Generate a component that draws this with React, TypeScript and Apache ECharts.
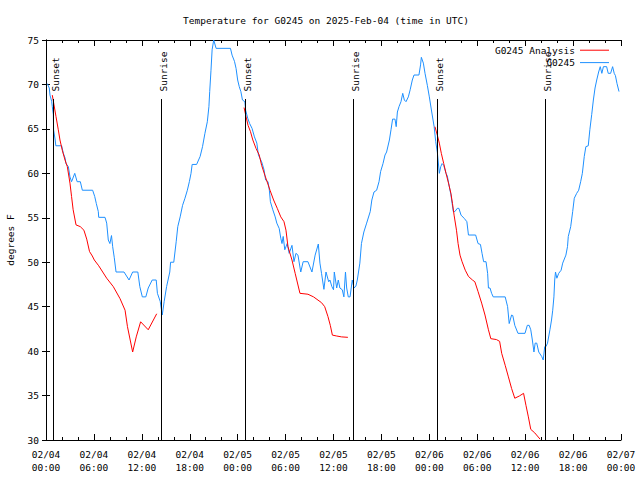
import React, { useEffect, useRef } from "react";
import * as echarts from "echarts";

// Hours since 2025-02-04 00:00 UTC
const obsHours = [
  0.16, 0.41, 0.5, 0.71, 0.79, 0.92, 0.95, 1.15, 1.23, 1.96, 2.17, 2.4, 2.5, 2.8, 3.0, 3.2, 3.6, 3.9, 4.3, 4.55,
  5.84, 6.1, 6.3, 6.55, 6.6, 7.39, 7.6, 7.8, 8.0, 8.2, 8.35, 8.55, 8.77, 9.77, 10.4, 10.85, 11.5, 11.75, 12.06, 12.5,
  12.8, 13.3, 13.8, 13.95, 14.3, 14.56, 14.8, 15.1, 15.5, 15.6, 16.0, 16.3, 16.5, 16.8, 17.1, 17.4, 17.7, 17.95, 18.16, 18.3,
  18.86, 19.3, 19.6, 19.9, 20.2, 20.4, 20.5, 20.66, 20.8, 21.0, 21.3, 23.1, 23.3, 23.6, 23.8, 24.0, 24.2, 24.4, 24.6, 24.9,
  25.0, 25.26, 25.5, 25.8, 26.1, 26.4, 26.6, 27.0, 27.3, 27.5, 27.8, 27.97, 28.1, 28.4, 28.7, 28.9, 29.2, 29.4, 29.55, 29.7,
  29.9, 30.2, 30.45, 30.8, 31.05, 31.3, 31.55, 31.9, 32.2, 32.8, 33.3, 33.7, 34.1, 34.3, 34.5, 34.8, 35.06, 35.4, 35.55, 35.8,
  36.0, 36.1, 36.4, 36.6, 36.8, 37.1, 37.3, 37.5, 37.65, 37.85, 38.07, 38.35, 38.57, 38.8, 38.98, 39.3, 39.5, 39.8, 40.15, 40.6,
  40.8, 41.07, 41.4, 41.7, 41.9, 42.2, 42.45, 42.65, 43.0, 43.2, 43.4, 43.7, 43.85, 44.0, 44.2, 44.45, 44.67, 44.87, 45.08, 45.37,
  45.6, 45.87, 46.08, 46.7, 46.9, 47.0, 47.25, 47.46, 47.75, 48.0, 48.3, 48.6, 48.8, 49.0, 49.25, 49.43, 49.6, 49.8, 50.09, 50.25,
  50.5, 50.7, 51.0, 51.2, 51.5, 51.7, 51.97, 52.4, 52.7, 52.9, 53.8, 54.1, 54.4, 54.6, 54.8, 55.1, 55.3, 55.4, 55.6, 55.8,
  56.0, 57.5, 57.8, 58.0, 58.3, 58.45, 58.7, 59.1, 59.98, 60.27, 60.5, 60.7, 60.9, 61.1, 61.25, 61.45, 61.7, 62.07, 62.26, 62.45,
  62.6, 62.8, 63.1, 63.3, 63.45, 63.6, 63.7, 63.8, 63.97, 64.2, 64.5, 64.7, 65.1, 65.3, 65.4, 65.7, 65.95, 66.15, 66.45, 66.7,
  66.95, 67.16, 67.4, 67.6, 67.9, 68.1, 68.33, 68.54, 68.75, 68.96, 69.2, 69.4, 69.6, 69.8, 70.2, 70.4, 70.7, 70.95, 71.15, 71.3,
  71.5, 71.75,
];
const obsTemps = [
  70.1, 69.6, 68.8, 68.1, 67.5, 66.6, 64.9, 63.75, 63.1, 63.1, 62.25, 61.7, 61.1, 60.75, 59.6, 59.06, 60.0, 59.06, 59.06, 58.1,
  58.1, 57.4, 56.6, 55.7, 55.05, 55.05, 54.4, 52.5, 52.1, 53.0, 51.75, 50.5, 48.9, 48.9, 48.0, 48.9, 48.9, 47.25, 46.1, 46.1,
  47.1, 48.0, 48.0, 46.5, 45.6, 44.06, 45.6, 47.25, 48.9, 50.0, 50.0, 52.3, 54.0, 55.1, 56.4, 57.2, 58.1, 59.06, 60.0, 61.0,
  61.0, 61.9, 63.0, 64.5, 65.8, 67.5, 69.2, 71.6, 73.9, 75.0, 74.06, 74.06, 73.3, 72.6, 71.8, 70.5, 69.75, 69.2, 68.25, 68.06,
  67.1, 66.2, 65.6, 65.06, 64.1, 63.4, 62.06, 61.3, 60.4, 59.25, 59.06, 58.1, 56.8, 55.9, 55.1, 54.4, 53.8, 52.7, 52.1, 52.9,
  51.4, 52.1, 51.0, 51.9, 50.06, 51.0, 50.8, 48.9, 50.06, 50.06, 48.9, 50.8, 52.05, 49.9, 48.75, 46.95, 48.9, 47.8, 48.0, 47.25,
  46.9, 48.9, 47.1, 48.0, 47.1, 46.9, 46.1, 48.9, 47.1, 46.1, 46.1, 48.0, 47.1, 47.3, 48.0, 49.9, 52.1, 53.4, 54.4, 55.7,
  57.0, 57.9, 58.1, 59.06, 60.2, 61.1, 62.06, 62.4, 63.75, 64.9, 66.1, 66.1, 65.25, 66.9, 67.5, 68.06, 69.0, 68.25, 68.06, 68.6,
  69.4, 70.5, 71.06, 71.06, 72.2, 73.05, 72.4, 71.25, 69.9, 68.6, 66.9, 65.25, 63.56, 62.4, 60.0, 60.75, 61.1, 60.9, 60.0, 59.7,
  58.5, 57.6, 55.7, 55.7, 56.06, 56.06, 55.3, 54.9, 54.56, 53.06, 53.06, 52.1, 52.0, 51.0, 50.06, 50.06, 48.75, 47.1, 47.1, 46.5,
  46.1, 46.1, 45.0, 43.1, 44.06, 44.0, 42.9, 42.0, 42.0, 42.9, 42.9, 42.4, 41.25, 39.9, 40.9, 40.9, 39.9, 39.4, 39.0, 40.5,
  40.5, 40.9, 42.4, 43.5, 44.6, 46.1, 48.0, 48.9, 48.2, 48.75, 49.1, 49.9, 50.8, 51.75, 52.9, 54.0, 55.7, 57.2, 57.75, 58.1,
  59.06, 60.0, 61.9, 63.0, 63.1, 64.9, 66.6, 68.25, 69.6, 70.5, 71.4, 72.0, 71.25, 72.0, 72.0, 71.25, 71.25, 72.0, 71.25, 71.0,
  70.1, 69.2,
];

const anaNight1Hours = [0.79, 1.0, 1.25, 1.54, 1.75, 2.04, 2.38, 2.67, 3.0, 3.2, 3.4, 3.76, 4.3, 4.75, 5.1, 5.45, 5.8, 6.05, 6.6, 7.6, 8.43, 9.27, 9.9, 10.2, 10.85, 11.3, 11.85, 12.8, 13.86];
const anaNight1Temps = [68.8, 67.7, 66.4, 64.9, 63.75, 62.6, 61.5, 60.75, 58.9, 57.4, 55.9, 54.2, 54.0, 53.6, 52.6, 51.2, 50.7, 50.25, 49.6, 48.2, 47.25, 45.9, 44.6, 42.75, 39.9, 41.6, 43.3, 42.4, 44.2];
const anaNight2Hours = [24.8, 25.04, 25.3, 25.6, 25.9, 26.3, 26.7, 27.0, 27.4, 28.05, 28.5, 28.96, 29.4, 29.8, 30.05, 30.3, 30.8, 31.2, 31.8, 32.8, 33.5, 34.5, 34.9, 35.3, 35.6, 35.86, 36.4, 37.0, 37.8];
const anaNight2Temps = [67.4, 66.4, 65.4, 64.7, 63.75, 62.8, 62.06, 60.9, 59.8, 58.1, 57.0, 56.06, 55.1, 54.56, 53.6, 51.75, 50.25, 48.75, 46.5, 46.4, 46.1, 45.45, 45.0, 43.9, 42.9, 41.8, 41.7, 41.6, 41.55];
const anaNight3Hours = [48.7, 49.0, 49.25, 49.5, 49.8, 50.09, 50.4, 50.7, 50.9, 51.1, 51.4, 51.6, 51.84, 52.1, 52.5, 52.9, 53.4, 53.7, 54.1, 54.55, 54.97, 55.4, 55.7, 56.4, 56.8, 57.06, 57.5, 57.9, 58.3, 58.7, 59.27, 59.8, 60.1, 60.4, 60.7, 61.2, 61.86];
const anaNight3Temps = [65.25, 64.3, 63.4, 62.25, 61.1, 60.0, 58.9, 57.75, 56.6, 55.3, 53.6, 52.1, 50.8, 50.06, 49.1, 48.4, 48.0, 47.8, 46.7, 45.4, 44.06, 42.4, 41.4, 41.3, 41.1, 39.75, 38.4, 37.1, 35.8, 34.7, 34.95, 35.25, 33.9, 32.6, 31.2, 30.8, 30.1];

const sunEventHours = [0.92, 14.44, 24.96, 38.5, 49.0, 62.5];
const sunEventLabels = ["Sunset", "Sunrise", "Sunset", "Sunrise", "Sunset", "Sunrise"];
const sunLineTopTemp = 68.36;

const yMin = 30;
const yMax = 75;
const yStep = 5;
const xMinHours = 0;
const xMaxHours = 72;
const xStepHours = 6;

const FONT = '"DejaVu Sans Mono", monospace';
const FS = 9.5;

function pairs(h: number[], t: number[]) {
  return h.map((v, i) => [v, t[i]]);
}

function fmtHour(h: number) {
  const day = 4 + Math.floor(h / 24);
  const hr = Math.round(h % 24);
  return `02/${String(day).padStart(2, "0")}\n${String(hr).padStart(2, "0")}:00`;
}

export default function App() {
  const ref = useRef<HTMLDivElement>(null);
  useEffect(() => {
    if (!ref.current) return;
    const chart = echarts.init(ref.current, null, { renderer: "svg" });
    const analysis = [
      ...pairs(anaNight1Hours, anaNight1Temps),
      [null, null],
      ...pairs(anaNight2Hours, anaNight2Temps),
      [null, null],
      ...pairs(anaNight3Hours, anaNight3Temps),
    ];
    const xBase = {
      type: "value",
      min: xMinHours,
      max: xMaxHours,
      interval: xStepHours,
      splitLine: { show: false },
      axisLine: { show: true, lineStyle: { color: "#000", width: 1 } },
      axisTick: { show: true, inside: true, length: 6, lineStyle: { color: "#000" } },
      minorTick: { show: true, splitNumber: 3, length: 3, lineStyle: { color: "#000" } },
    };
    const yBase = {
      type: "value",
      min: yMin,
      max: yMax,
      interval: yStep,
      splitLine: { show: false },
      axisLine: { show: true, lineStyle: { color: "#000", width: 1 } },
      axisTick: { show: true, inside: true, length: 4, lineStyle: { color: "#000" } },
    };
    chart.setOption({
      animation: false,
      backgroundColor: "#fff",
      textStyle: { fontFamily: FONT },
      title: {
        text: "Temperature for G0245 on 2025-Feb-04 (time in UTC)",
        left: 183,
        top: 15,
        padding: 0,
        textStyle: { fontFamily: FONT, fontSize: FS, fontWeight: "normal", color: "#000" },
      },
      legend: {
        orient: "vertical",
        right: 31,
        top: 44,
        align: "right",
        padding: 0,
        itemGap: 0,
        itemWidth: 29,
        itemHeight: 1,
        icon: "rect",
        textStyle: { fontFamily: FONT, fontSize: FS, color: "#000", lineHeight: 12.4 },
        data: ["G0245 Analysis", "G0245"],
      },
      grid: { left: 46, right: 19, top: 40, bottom: 40, containLabel: false, outerBoundsMode: "none" },
      xAxis: [
        {
          ...xBase,
          position: "bottom",
          axisLabel: {
            show: true,
            formatter: (v: number) => fmtHour(v),
            fontFamily: FONT,
            fontSize: FS,
            lineHeight: 13,
            color: "#000",
            margin: 8,
            showMinLabel: true,
            showMaxLabel: true,
          },
        },
        { ...xBase, position: "top", axisLabel: { show: false } },
      ],
      yAxis: [
        {
          ...yBase,
          position: "left",
          name: "degrees F",
          nameLocation: "middle",
          nameRotate: 90,
          nameGap: 31,
          nameTextStyle: { fontFamily: FONT, fontSize: FS, color: "#000" },
          axisLabel: { show: true, fontFamily: FONT, fontSize: FS, color: "#000", margin: 7 },
        },
        { ...yBase, position: "right", axisLabel: { show: false } },
      ],
      series: [
        {
          name: "G0245 Analysis",
          type: "line",
          data: analysis,
          showSymbol: false,
          connectNulls: false,
          lineStyle: { color: "#ff0000", width: 1 },
          itemStyle: { color: "#ff0000" },
          xAxisIndex: 0,
          yAxisIndex: 0,
          z: 3,
        },
        {
          name: "G0245",
          type: "line",
          data: pairs(obsHours, obsTemps),
          showSymbol: false,
          lineStyle: { color: "#1e90ff", width: 1 },
          itemStyle: { color: "#1e90ff" },
          xAxisIndex: 0,
          yAxisIndex: 0,
          z: 2,
        },
        {
          name: "sun",
          type: "custom",
          xAxisIndex: 0,
          yAxisIndex: 0,
          silent: true,
          z: 4,
          data: sunEventHours.map((h, i) => [h, sunLineTopTemp, i]),
          renderItem: (params: any, api: any) => {
            const h = api.value(0);
            const top = api.coord([h, api.value(1)]);
            const bot = api.coord([h, yMin]);
            const idx = api.value(2);
            const x = Math.round(top[0]) + 0.5;
            return {
              type: "group",
              children: [
                {
                  type: "line",
                  shape: { x1: x, y1: top[1], x2: x, y2: bot[1] },
                  style: { stroke: "#000", lineWidth: 1 },
                },
                {
                  type: "text",
                  x: x + 2,
                  y: top[1] - 7.5,
                  rotation: Math.PI / 2,
                  style: {
                    text: sunEventLabels[idx],
                    fill: "#000",
                    font: `${FS}px ${FONT}`,
                    align: "left",
                    verticalAlign: "middle",
                  },
                },
              ],
            };
          },
        },
      ],
    });
    return () => chart.dispose();
  }, []);
  return (
    <div
      ref={ref}
      style={{ position: "fixed", left: 0, top: 0, width: 640, height: 480, background: "#fff" }}
    />
  );
}
